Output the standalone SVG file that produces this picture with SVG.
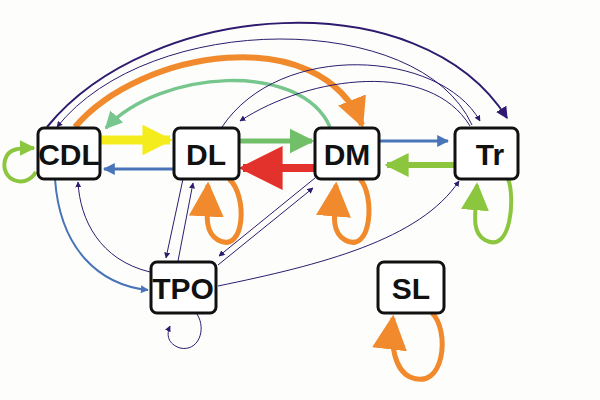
<svg xmlns="http://www.w3.org/2000/svg" width="600" height="400" viewBox="0 0 600 400">
<style>
.box{fill:#fff;stroke:#111;stroke-width:3}
.t{font-family:"Liberation Sans",Arial,sans-serif;font-weight:bold;font-size:30px;fill:#111;text-anchor:middle}
path{fill:none}
</style>
<defs>
<marker id="nv" viewBox="0 0 10 10" refX="9" refY="5" markerWidth="6" markerHeight="6" orient="auto" markerUnits="strokeWidth"><path d="M0,0L10,5L0,10z" style="fill:#2e1a6e"/></marker>
<marker id="or" viewBox="0 0 10 10" refX="9" refY="5" markerWidth="5" markerHeight="5" orient="auto" markerUnits="strokeWidth"><path d="M0,0L10,5L0,10z" style="fill:#f08a2c"/></marker>
<marker id="orL" viewBox="0 0 10 10" refX="9" refY="5" markerWidth="7" markerHeight="7" orient="auto" markerUnits="strokeWidth"><path d="M0,0L10,5L0,10z" style="fill:#f08a2c"/></marker>
<marker id="tl" viewBox="0 0 10 10" refX="9" refY="5" markerWidth="5" markerHeight="5" orient="auto" markerUnits="strokeWidth"><path d="M0,0L10,5L0,10z" style="fill:#76c68d"/></marker>
<marker id="ye" viewBox="0 0 10 10" refX="9" refY="5" markerWidth="3.4" markerHeight="3.4" orient="auto" markerUnits="strokeWidth"><path d="M0,0L10,5L0,10z" style="fill:#f5ec1e"/></marker>
<marker id="gr" viewBox="0 0 10 10" refX="9" refY="5" markerWidth="5" markerHeight="5" orient="auto" markerUnits="strokeWidth"><path d="M0,0L10,5L0,10z" style="fill:#72bf6a"/></marker>
<marker id="bl" viewBox="0 0 10 10" refX="9" refY="5" markerWidth="4" markerHeight="4" orient="auto" markerUnits="strokeWidth"><path d="M0,0L10,5L0,10z" style="fill:#4a74b8"/></marker>
<marker id="rd" viewBox="0 0 10 10" refX="9" refY="5" markerWidth="5.5" markerHeight="5.5" orient="auto" markerUnits="strokeWidth"><path d="M0,0L10,5L0,10z" style="fill:#e3322b"/></marker>
<marker id="lm" viewBox="0 0 10 10" refX="9" refY="5" markerWidth="4" markerHeight="4" orient="auto" markerUnits="strokeWidth"><path d="M0,0L10,5L0,10z" style="fill:#8cc63f"/></marker>
<marker id="lmL" viewBox="0 0 10 10" refX="9" refY="5" markerWidth="7" markerHeight="7" orient="auto" markerUnits="strokeWidth"><path d="M0,0L10,5L0,10z" style="fill:#8cc63f"/></marker>
</defs>
<rect width="600" height="400" fill="#fdfefc"/>
<g id="connectors">
<path d="M47 127 C150 0,420 -20,507 118" stroke="#2e1a6e" stroke-width="2" marker-end="url(#nv)"/>
<path d="M472 125 C420 10,150 10,57 127" stroke="#2e1a6e" stroke-width="1" marker-end="url(#nv)"/>
<path d="M75 127 C140 50,320 20,362 125" stroke="#f08a2c" stroke-width="6" marker-end="url(#or)"/>
<path d="M330 127 C300 60,160 70,106 128" stroke="#76c68d" stroke-width="3.5" marker-end="url(#tl)"/>
<path d="M222 127 C280 40,440 50,480 121" stroke="#2e1a6e" stroke-width="1" marker-end="url(#nv)"/>
<path d="M470 126 C430 60,310 75,240 121" stroke="#2e1a6e" stroke-width="1" marker-end="url(#nv)"/>
<path d="M101 140 L170 140" stroke="#f5ec1e" stroke-width="9" marker-end="url(#ye)"/>
<path d="M240 141 L312 141" stroke="#72bf6a" stroke-width="5" marker-end="url(#gr)"/>
<path d="M380 141 L448 141" stroke="#4a74b8" stroke-width="3" marker-end="url(#bl)"/>
<path d="M174 169 L104 169" stroke="#4a74b8" stroke-width="3" marker-end="url(#bl)"/>
<path d="M315 168 L243 168" stroke="#e3322b" stroke-width="8" marker-end="url(#rd)"/>
<path d="M455 165 L387 165" stroke="#8cc63f" stroke-width="6" marker-end="url(#lm)"/>
<path d="M36 172 C25 190,0 180,5 160 C8 148,20 148,34 148" stroke="#8cc63f" stroke-width="4" marker-end="url(#lm)"/>
<path d="M229 179 C248 195,245 255,218 240 C206 233,206 222,208 185" stroke="#f08a2c" stroke-width="5" marker-end="url(#orL)"/>
<path d="M360 179 C375 195,372 255,345 240 C333 233,333 222,336 185" stroke="#f08a2c" stroke-width="5" marker-end="url(#orL)"/>
<path d="M508 179 C515 195,512 255,485 240 C473 233,474 222,477 185" stroke="#8cc63f" stroke-width="4" marker-end="url(#lmL)"/>
<path d="M432 313 C450 330,445 392,410 377 C395 370,390 345,393 318" stroke="#f08a2c" stroke-width="5" marker-end="url(#orL)"/>
<path d="M197 314 C207 330,198 352,180 348 C168 344,166 335,170 326" stroke="#2e1a6e" stroke-width="1" marker-end="url(#nv)"/>
<path d="M55 179 C60 250,100 285,148 290" stroke="#4a74b8" stroke-width="2" marker-end="url(#bl)"/>
<path d="M150 272 C100 260,80 220,78 182" stroke="#2e1a6e" stroke-width="1" marker-end="url(#nv)"/>
<path d="M183 179 L166 258" stroke="#2e1a6e" stroke-width="1" marker-end="url(#nv)"/>
<path d="M178 261 L193 183" stroke="#2e1a6e" stroke-width="1" marker-end="url(#nv)"/>
<path d="M315 178 L219 256" stroke="#2e1a6e" stroke-width="1" marker-end="url(#nv)"/>
<path d="M218 265 L313 188" stroke="#2e1a6e" stroke-width="1" marker-end="url(#nv)"/>
<path d="M218 286 C320 265,420 240,459 181" stroke="#2e1a6e" stroke-width="1" marker-end="url(#nv)"/>
</g>
<g id="CDL"><rect class="box" x="38" y="128" width="62" height="51" rx="6"/><text class="t" x="69" y="165">CDL</text></g>
<g id="DL"><rect class="box" x="174" y="128" width="65" height="51" rx="6"/><text class="t" x="206" y="165">DL</text></g>
<g id="DM"><rect class="box" x="315" y="128" width="64" height="51" rx="6"/><text class="t" x="347" y="165">DM</text></g>
<g id="Tr"><rect class="box" x="455" y="128" width="63" height="51" rx="6"/><text class="t" x="490" y="165">Tr</text></g>
<g id="TPO"><rect class="box" x="151" y="262" width="65" height="51" rx="6"/><text class="t" x="183" y="299">TPO</text></g>
<g id="SL"><rect class="box" x="378" y="262" width="66" height="51" rx="6"/><text class="t" x="411" y="299">SL</text></g>
</svg>
